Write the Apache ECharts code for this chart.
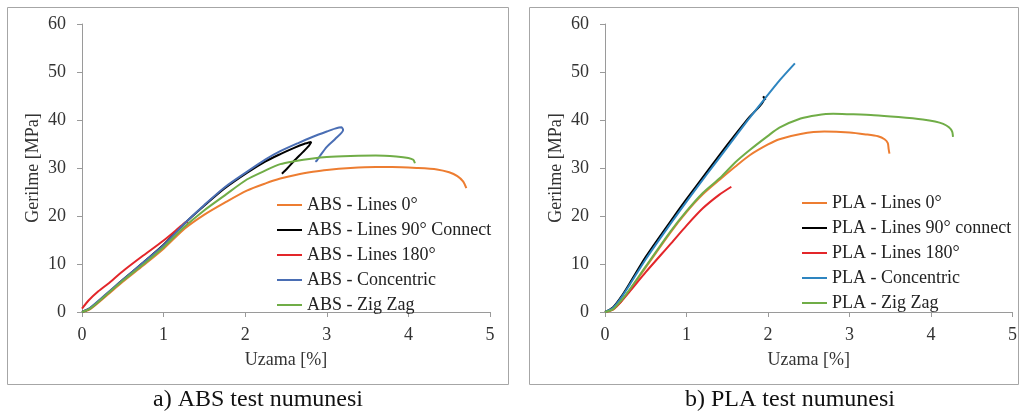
<!DOCTYPE html>
<html>
<head>
<meta charset="utf-8">
<script src="https://cdn.jsdelivr.net/npm/echarts@6/dist/echarts.min.js"></script>
<style>
html, body { margin: 0; padding: 0; background: #fff; }
#main { width: 1020px; height: 416px; }
</style>
</head>
<body>
<div id="main"></div>
<script>
// ABS curves [Uzama %, Gerilme MPa]
var absLines0 = [[0,0],[0.1,0.6],[0.3,3.4],[0.5,6.3],[0.75,9.7],[1.0,13.2],[1.26,17.4],[1.5,20.3],[1.75,22.8],[2.02,25.3],[2.25,26.8],[2.43,27.8],[2.63,28.6],[2.83,29.2],[3.0,29.6],[3.29,30.0],[3.6,30.2],[3.8,30.2],[4.1,30.0],[4.35,29.7],[4.5,29.1],[4.6,28.3],[4.67,27.2],[4.71,25.8]];
var absLines90 = [[0,0],[0.1,0.8],[0.3,3.7],[0.5,6.7],[0.75,10.3],[1.0,14.0],[1.26,18.5],[1.5,22.2],[1.75,25.8],[2.02,29.0],[2.25,31.4],[2.43,32.9],[2.6,34.2],[2.72,35.0],[2.81,35.4],[2.78,34.6],[2.7,33.2],[2.6,31.5],[2.52,30.0],[2.45,28.8]];
var absLines180 = [[0,0.7],[0.08,2.4],[0.2,4.3],[0.32,5.9],[0.5,8.5],[0.73,11.5],[1.0,14.9],[1.22,18.0],[1.28,18.8],[1.30,18.4]];
var absConcentric = [[0,0],[0.1,0.9],[0.3,3.8],[0.5,6.7],[0.75,10.3],[1.0,13.9],[1.26,18.5],[1.5,22.3],[1.75,26.0],[2.02,29.2],[2.25,31.8],[2.43,33.5],[2.65,35.2],[2.83,36.5],[3.0,37.6],[3.1,38.2],[3.18,38.5],[3.2,37.9],[3.1,36.0],[3.0,34.4],[2.92,32.6],[2.88,31.6],[2.86,31.3]];
var absZigZag = [[0,0],[0.1,0.7],[0.3,3.6],[0.5,6.5],[0.75,9.9],[1.0,13.5],[1.26,17.8],[1.5,21.2],[1.75,24.3],[2.02,27.6],[2.25,29.5],[2.43,30.8],[2.6,31.4],[2.83,32.0],[3.0,32.3],[3.29,32.5],[3.6,32.6],[3.85,32.4],[4.0,32.1],[4.06,31.7],[4.08,31.0]];

// PLA curves
var plaLines0 = [[0,0],[0.1,0.5],[0.2,2.2],[0.3,4.5],[0.5,9.3],[0.8,16.5],[1.0,20.8],[1.2,24.5],[1.41,27.6],[1.6,30.3],[1.78,32.7],[2.0,34.9],[2.14,36.0],[2.4,37.1],[2.69,37.6],[3.0,37.4],[3.2,37.0],[3.35,36.6],[3.43,36.0],[3.47,35.2],[3.48,34.0],[3.49,33.0]];
var plaLines90 = [[0,0],[0.1,1.0],[0.2,3.2],[0.3,5.9],[0.5,11.5],[0.8,18.8],[1.0,23.5],[1.25,29.2],[1.5,34.8],[1.75,40.2],[1.96,44.6],[1.94,44.9],[1.97,44.2]];
var plaLines180 = [[0,0],[0.1,0.6],[0.2,2.2],[0.3,4.2],[0.5,8.3],[0.8,14.1],[1.0,18.0],[1.2,21.6],[1.4,24.4],[1.55,26.1]];
var plaConcentric = [[0,0],[0.1,0.9],[0.2,3.0],[0.3,5.6],[0.5,11.0],[0.8,18.3],[1.0,23.0],[1.25,28.7],[1.5,34.3],[1.75,39.9],[1.95,44.2],[2.15,48.4],[2.33,51.8]];
var plaZigZag = [[0,0],[0.1,0.6],[0.2,2.4],[0.3,4.6],[0.5,9.5],[0.8,16.7],[1.0,21.0],[1.2,24.8],[1.41,27.9],[1.6,31.2],[1.78,33.8],[2.0,36.7],[2.14,38.4],[2.4,40.3],[2.6,41.0],[2.8,41.3],[3.0,41.2],[3.3,41.0],[3.6,40.6],[3.9,40.1],[4.05,39.7],[4.15,39.2],[4.22,38.5],[4.26,37.6],[4.27,36.5]];

var absNames = ['ABS - Lines 0°', 'ABS - Lines 90° Connect', 'ABS - Lines 180°', 'ABS - Concentric', 'ABS - Zig Zag'];
var plaNames = ['PLA - Lines 0°', 'PLA - Lines 90° connect', 'PLA - Lines 180°', 'PLA - Concentric', 'PLA - Zig Zag'];
var absColors = ['#ED7D31', '#000000', '#E3262A', '#4A6EB4', '#70AD47'];
var plaColors = ['#ED7D31', '#000000', '#E3262A', '#2E85C0', '#70AD47'];
var captions = ['a) ABS test numunesi', 'b) PLA test numunesi'];

var font = 'Liberation Serif';
var dom = document.getElementById('main');
var myChart = echarts.init(dom, null, { renderer: 'canvas' });

function xAxisOf(idx) {
    return {
        gridIndex: idx, type: 'value', min: 0, max: 5, interval: 1,
        name: 'Uzama [%]', nameLocation: 'middle', nameGap: 39,
        nameTextStyle: { fontFamily: font, fontSize: 18, color: '#333' },
        axisLine: { lineStyle: { color: '#9a9a9a' } },
        axisTick: { show: true, length: 5, lineStyle: { color: '#9a9a9a' } },
        axisLabel: { fontFamily: font, fontSize: 18, color: '#333', margin: 14 },
        splitLine: { show: false }
    };
}
function yAxisOf(idx) {
    return {
        gridIndex: idx, type: 'value', min: 0, max: 60, interval: 10,
        name: 'Gerilme [MPa]', nameLocation: 'middle', nameGap: 40,
        nameTextStyle: { fontFamily: font, fontSize: 18, color: '#333' },
        axisLine: { show: true, lineStyle: { color: '#9a9a9a' } },
        axisTick: { show: true, length: 5, lineStyle: { color: '#9a9a9a' } },
        axisLabel: { fontFamily: font, fontSize: 18, color: '#333', margin: 16 },
        splitLine: { show: false }
    };
}
function legendOf(names, left, top) {
    return {
        data: names, orient: 'vertical', left: left, top: top,
        icon: 'rect', itemWidth: 25, itemHeight: 2, itemGap: 7,
        textStyle: { fontFamily: font, fontSize: 18, color: '#222', lineHeight: 18 }
    };
}
function lineOf(name, data, color, idx) {
    return {
        name: name, type: 'line', data: data, xAxisIndex: idx, yAxisIndex: idx,
        showSymbol: false, smooth: 0.25, color: color,
        lineStyle: { width: 2, color: color }
    };
}

var absData = [absLines0, absLines90, absLines180, absConcentric, absZigZag];
var plaData = [plaLines0, plaLines90, plaLines180, plaConcentric, plaZigZag];
var series = [];
absData.forEach(function (d, i) { series.push(lineOf(absNames[i], d, absColors[i], 0)); });
plaData.forEach(function (d, i) { series.push(lineOf(plaNames[i], d, plaColors[i], 1)); });

var option = {
    backgroundColor: '#fff',
    animation: false,
    grid: [
        { left: 82, top: 24, width: 408, height: 288 },
        { left: 605, top: 24, width: 408, height: 288 }
    ],
    xAxis: [xAxisOf(0), xAxisOf(1)],
    yAxis: [yAxisOf(0), yAxisOf(1)],
    legend: [legendOf(absNames, 272, 191), legendOf(plaNames, 797, 189)],
    series: series,
    graphic: [
        { type: 'rect', shape: { x: 7.5, y: 7.5, width: 501, height: 377 }, style: { fill: 'none', stroke: '#a6a6a6', lineWidth: 1 }, silent: true },
        { type: 'rect', shape: { x: 529.5, y: 7.5, width: 489, height: 377 }, style: { fill: 'none', stroke: '#a6a6a6', lineWidth: 1 }, silent: true },
        { type: 'text', left: 153, top: 388, style: { text: captions[0], font: '24px "Liberation Serif"', fill: '#111' } },
        { type: 'text', left: 685, top: 388, style: { text: captions[1], font: '24px "Liberation Serif"', fill: '#111' } }
    ]
};

myChart.setOption(option);
window.addEventListener('resize', myChart.resize);
</script>
</body>
</html>
